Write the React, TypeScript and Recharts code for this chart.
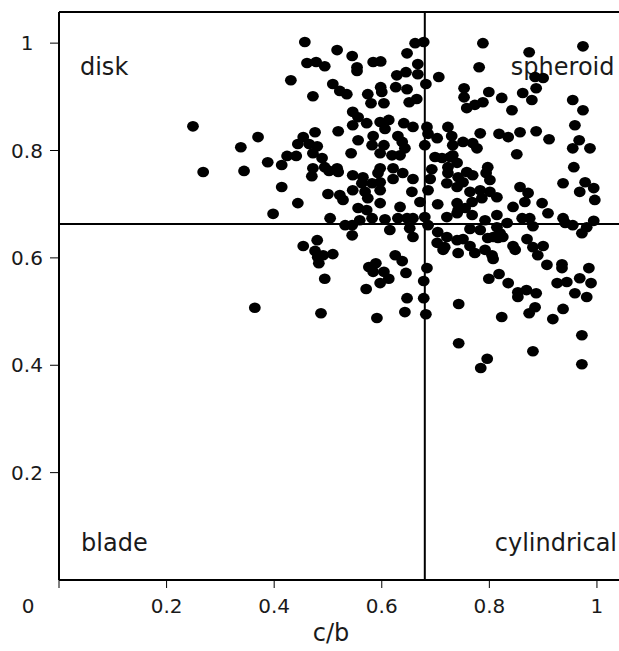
import React from 'react';
import { ScatterChart, Scatter, XAxis, YAxis, ReferenceLine, ReferenceDot } from 'recharts';

// [c/b, b/a] pairs
const samples: [number, number][] = [
  [0.457, 1.002], [0.461, 0.963], [0.478, 0.965], [0.431, 0.931], [0.472, 0.901], [0.249, 0.845], [0.370, 0.825], [0.338, 0.806], [0.476, 0.834], [0.454, 0.825],
  [0.444, 0.812], [0.465, 0.812], [0.480, 0.808], [0.662, 1.000], [0.678, 1.002], [0.517, 0.987], [0.545, 0.976], [0.494, 0.957], [0.584, 0.965], [0.598, 0.966],
  [0.554, 0.955], [0.554, 0.948], [0.647, 0.981], [0.667, 0.961], [0.628, 0.940], [0.645, 0.946], [0.667, 0.942], [0.706, 0.937], [0.682, 0.924], [0.509, 0.924],
  [0.522, 0.911], [0.535, 0.905], [0.598, 0.918], [0.600, 0.909], [0.626, 0.918], [0.647, 0.914], [0.574, 0.905], [0.580, 0.888], [0.604, 0.888], [0.651, 0.890],
  [0.665, 0.896], [0.546, 0.872], [0.556, 0.862], [0.597, 0.853], [0.613, 0.857], [0.641, 0.851], [0.658, 0.844], [0.572, 0.851], [0.546, 0.847], [0.519, 0.836],
  [0.606, 0.840], [0.684, 0.844], [0.686, 0.831], [0.723, 0.844], [0.703, 0.823], [0.556, 0.819], [0.584, 0.827], [0.582, 0.810], [0.630, 0.827], [0.638, 0.816],
  [0.604, 0.810], [0.730, 0.827], [0.732, 0.810], [0.680, 0.810],
  [0.788, 1.000], [0.874, 0.983], [0.974, 0.994], [0.781, 0.955], [0.885, 0.937], [0.900, 0.935], [0.753, 0.916], [0.753, 0.899], [0.799, 0.909], [0.823, 0.898],
  [0.862, 0.907], [0.887, 0.916], [0.879, 0.894], [0.758, 0.879], [0.773, 0.885], [0.788, 0.890], [0.842, 0.875], [0.955, 0.894], [0.974, 0.875], [0.959, 0.847],
  [0.751, 0.816], [0.783, 0.832], [0.769, 0.814], [0.818, 0.831], [0.835, 0.825], [0.857, 0.834], [0.887, 0.836], [0.911, 0.821], [0.967, 0.819], [0.955, 0.804],
  [0.987, 0.804],
  [0.268, 0.760], [0.344, 0.762], [0.388, 0.778], [0.414, 0.773], [0.424, 0.790], [0.441, 0.790], [0.472, 0.795], [0.472, 0.767], [0.470, 0.752], [0.414, 0.732],
  [0.444, 0.702], [0.398, 0.682], [0.454, 0.622], [0.480, 0.633], [0.476, 0.613], [0.481, 0.601],
  [0.489, 0.786], [0.494, 0.769], [0.502, 0.762], [0.517, 0.767], [0.519, 0.760], [0.543, 0.795], [0.597, 0.795], [0.619, 0.791], [0.634, 0.791], [0.643, 0.804],
  [0.699, 0.788], [0.712, 0.786], [0.732, 0.791], [0.740, 0.777], [0.723, 0.769], [0.723, 0.758], [0.621, 0.767], [0.639, 0.758], [0.597, 0.767], [0.593, 0.758],
  [0.546, 0.754], [0.565, 0.750], [0.563, 0.739], [0.582, 0.739], [0.597, 0.741], [0.621, 0.747], [0.658, 0.747], [0.693, 0.765], [0.690, 0.747], [0.721, 0.739],
  [0.546, 0.726], [0.569, 0.723], [0.574, 0.711], [0.597, 0.726], [0.597, 0.702], [0.656, 0.723], [0.686, 0.726], [0.740, 0.732], [0.500, 0.719], [0.522, 0.717],
  [0.528, 0.708], [0.671, 0.704], [0.704, 0.700], [0.740, 0.702], [0.634, 0.695], [0.556, 0.693], [0.572, 0.689], [0.504, 0.674], [0.559, 0.670], [0.582, 0.674],
  [0.606, 0.672], [0.630, 0.674], [0.647, 0.674], [0.658, 0.674], [0.680, 0.676], [0.721, 0.676], [0.740, 0.683], [0.532, 0.661], [0.545, 0.661], [0.545, 0.642],
  [0.615, 0.652], [0.652, 0.655], [0.658, 0.639], [0.686, 0.661], [0.704, 0.648], [0.721, 0.639], [0.491, 0.605], [0.703, 0.628], [0.717, 0.620], [0.740, 0.633],
  [0.742, 0.609], [0.625, 0.605],
  [0.777, 0.804], [0.727, 0.788], [0.742, 0.750], [0.751, 0.741], [0.851, 0.793], [0.957, 0.769], [0.797, 0.769], [0.794, 0.758], [0.801, 0.745], [0.758, 0.760],
  [0.769, 0.754], [0.937, 0.739], [0.978, 0.741], [0.968, 0.723], [0.994, 0.730], [0.996, 0.708], [0.857, 0.732], [0.872, 0.721], [0.866, 0.704], [0.764, 0.723],
  [0.783, 0.726], [0.801, 0.723], [0.814, 0.713], [0.786, 0.711], [0.768, 0.704], [0.742, 0.689], [0.755, 0.693], [0.844, 0.695], [0.898, 0.702], [0.909, 0.683],
  [0.768, 0.680], [0.792, 0.670], [0.814, 0.680], [0.833, 0.665], [0.861, 0.674], [0.875, 0.674], [0.881, 0.659], [0.937, 0.674], [0.941, 0.665], [0.955, 0.661],
  [0.981, 0.657], [0.994, 0.669], [0.972, 0.646], [0.764, 0.654], [0.783, 0.652], [0.814, 0.657], [0.820, 0.646], [0.816, 0.637], [0.807, 0.639], [0.825, 0.639],
  [0.797, 0.637], [0.751, 0.635], [0.870, 0.635], [0.881, 0.620], [0.900, 0.622], [0.844, 0.622], [0.848, 0.615], [0.764, 0.622], [0.773, 0.609], [0.792, 0.615],
  [0.805, 0.605], [0.890, 0.605],
  [0.364, 0.507], [0.483, 0.590], [0.487, 0.497], [0.509, 0.607], [0.494, 0.561], [0.576, 0.583], [0.589, 0.590], [0.584, 0.574], [0.604, 0.574], [0.613, 0.561],
  [0.597, 0.553], [0.571, 0.542], [0.638, 0.594], [0.645, 0.572], [0.647, 0.525], [0.643, 0.499], [0.591, 0.488], [0.684, 0.581], [0.678, 0.557], [0.678, 0.525],
  [0.682, 0.495], [0.714, 0.615], [0.743, 0.514], [0.743, 0.441], [0.807, 0.598], [0.907, 0.587], [0.935, 0.588], [0.935, 0.581], [0.985, 0.581], [0.799, 0.561],
  [0.818, 0.570], [0.835, 0.553], [0.853, 0.536], [0.853, 0.527], [0.869, 0.540], [0.887, 0.534], [0.926, 0.553], [0.944, 0.555], [0.968, 0.562], [0.989, 0.553],
  [0.959, 0.534], [0.981, 0.527], [0.885, 0.508], [0.874, 0.497], [0.937, 0.505], [0.918, 0.486], [0.823, 0.490], [0.972, 0.456], [0.881, 0.426], [0.796, 0.412],
  [0.784, 0.395], [0.972, 0.402],
];

const xTicks = [0, 0.2, 0.4, 0.6, 0.8, 1];
const yTicks = [0.2, 0.4, 0.6, 0.8, 1];
const xMax = 1.041;
const yMax = 1.058;
const cbBoundary = 0.68;
const baBoundary = 0.663;

const quadrantLabels = [
  { text: 'disk', cb: 0.039, ba: 0.94, anchor: 'start' },
  { text: 'spheroid', cb: 0.840, ba: 0.94, anchor: 'start' },
  { text: 'blade', cb: 0.041, ba: 0.054, anchor: 'start' },
  { text: 'cylindrical', cb: 0.810, ba: 0.054, anchor: 'start' },
];

const data = samples.map(([cb, ba]) => ({ cb, ba }));
const FONT = '"DejaVu Sans", Arial, sans-serif';

const XTick = (props: any) => {
  const { x, y, payload } = props;
  const v = payload.value;
  return (
    <text x={v === 0 ? x - 31 : x} y={y + 23} textAnchor="middle" fontSize={20} fontFamily={FONT} fill="#1a1a1a">
      {String(v)}
    </text>
  );
};

const YTick = (props: any) => {
  const { x, y, payload } = props;
  return (
    <text x={x - 21} y={y + 7} textAnchor="middle" fontSize={20} fontFamily={FONT} fill="#1a1a1a">
      {String(payload.value)}
    </text>
  );
};

const Dot = (props: any) => {
  const { cx, cy } = props;
  return <ellipse cx={cx} cy={cy} rx={5.9} ry={5.3} fill="#000" />;
};

export default function App() {
  return (
    <div style={{ position: 'absolute', left: 0, top: 0, width: 619, height: 651, background: '#fff', overflow: 'hidden' }}>
      <ScatterChart width={619} height={651} margin={{ top: 12, right: 0, bottom: 0, left: 0 }}>
        <XAxis
          type="number"
          dataKey="cb"
          domain={[0, xMax]}
          ticks={xTicks}
          allowDataOverflow
          height={71}
          tickSize={8}
          tick={<XTick />}
          axisLine={{ stroke: '#000', strokeWidth: 2 }}
          tickLine={{ stroke: '#000', strokeWidth: 1 }}
          interval={0}
          label={{
            content: (p: any) => {
              const vb = p.viewBox || { x: 59, width: 560, y: 580 };
              return (
                <text x={vb.x + vb.width / 2 - 8} y={641} textAnchor="middle" fontSize={24} fontFamily={FONT} fill="#1a1a1a">
                  c/b
                </text>
              );
            },
          }}
        />
        <YAxis
          type="number"
          dataKey="ba"
          domain={[0, yMax]}
          ticks={yTicks}
          allowDataOverflow
          width={59}
          tickSize={9}
          tick={<YTick />}
          axisLine={{ stroke: '#000', strokeWidth: 2 }}
          tickLine={{ stroke: '#000', strokeWidth: 1 }}
          interval={0}
        />
        <ReferenceLine y={yMax} stroke="#000" strokeWidth={2} ifOverflow="visible" />
        <ReferenceLine x={cbBoundary} stroke="#000" strokeWidth={2} />
        <ReferenceLine y={baBoundary} stroke="#000" strokeWidth={2} />
        {quadrantLabels.map((q) => (
          <ReferenceDot
            key={q.text}
            x={q.cb}
            y={q.ba}
            r={0}
            ifOverflow="visible"
            shape={(p: any) => (
              <text x={p.cx} y={p.cy} textAnchor={q.anchor as any} fontSize={24} fontFamily={FONT} fill="#1a1a1a">
                {q.text}
              </text>
            )}
          />
        ))}
        <Scatter data={data} shape={<Dot />} isAnimationActive={false} />
      </ScatterChart>
    </div>
  );
}
